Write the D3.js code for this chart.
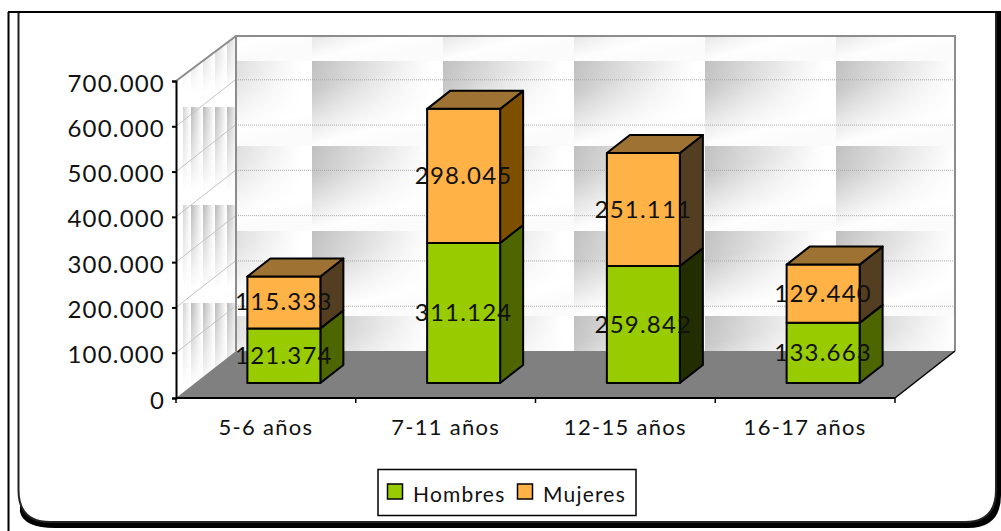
<!DOCTYPE html>
<html>
<head>
<meta charset="utf-8">
<script src="https://cdnjs.cloudflare.com/ajax/libs/d3/7.8.5/d3.min.js"></script>
<style>
html,body{margin:0;padding:0;background:#fff;overflow:hidden}
svg{display:block}
text{font-family:Lato,"Noto Sans",sans-serif;fill:#111}
</style>
</head>
<body>
<svg id="c" width="1001" height="531"></svg>
<script>
const categories = ["5-6 años","7-11 años","12-15 años","16-17 años"];
const hombres = [121374,311124,259842,133663];
const mujeres = [115333,298045,251111,129440];
const yTicks = [0,100000,200000,300000,400000,500000,600000,700000];
const seriesNames = ["Hombres","Mujeres"];
const seriesColors = ["#99CC00","#FFB347"];
const topColor = "#9D7233";
const hombresSide = ["#4D6600","#4D6600","#222E00","#4D6600"];
const mujeresSide = ["#543E22","#7F4F00","#543E22","#543E22"];

const locale = d3.formatLocale({decimal:",",thousands:".",grouping:[3],currency:["","€"]});
const fmt = locale.format(",d");

const svg = d3.select("#c");
const W = 1001, H = 531;
const x = d3.scaleBand().domain(categories).range([176,895]);
const y = d3.scaleLinear().domain([0,700000]).range([398,81]);
const yBar = d3.scaleLinear().domain([0,700000]).range([383,68]);
const depth = {dx:60, dy:-47};
const bar = {w:73, off:18, dx:23, dy:-18};
const pts = a => a.map(p=>p.join(",")).join(" ");

// frame
const defs = svg.append("defs");
svg.append("rect").attr("width",W).attr("height",H).attr("fill","#fff");
svg.append("path").attr("fill","#000")
  .attr("d","M20,12 H1001 V495 Q1001,528 968,528 H55 Q24,528 20,512 Z");
svg.append("path").attr("fill","#fff").attr("stroke","#222").attr("stroke-width",2)
  .attr("d","M18.5,12 V490 Q18.5,522 50,522 H965 Q996,522 996,490 V12 Z");
svg.append("line").attr("x1",8.5).attr("x2",8.5).attr("y1",12).attr("y2",H).attr("stroke","#000").attr("stroke-width",2);
svg.append("line").attr("x1",8).attr("x2",1001).attr("y1",12).attr("y2",12).attr("stroke","#000").attr("stroke-width",2);

// wall textures
const hg = defs.append("linearGradient").attr("id","hg");
hg.append("stop").attr("offset",0).attr("stop-color","#c0c0c0");
hg.append("stop").attr("offset",0.92).attr("stop-color","#fff");
const vg = defs.append("linearGradient").attr("id","vg").attr("x1",0).attr("y1",0).attr("x2",0.4).attr("y2",1);
vg.append("stop").attr("offset",0).attr("stop-color","#fff").attr("stop-opacity",0);
vg.append("stop").attr("offset",0.3).attr("stop-color","#fff").attr("stop-opacity",0.12);
vg.append("stop").attr("offset",0.85).attr("stop-color","#fff").attr("stop-opacity",0.97);
vg.append("stop").attr("offset",1).attr("stop-color","#fbfbfb").attr("stop-opacity",1);
const back = defs.append("pattern").attr("id","backTile").attr("patternUnits","userSpaceOnUse")
  .attr("x",181).attr("y",61).attr("width",131).attr("height",85);
back.append("rect").attr("width",131).attr("height",85).attr("fill","url(#hg)");
back.append("rect").attr("width",131).attr("height",85).attr("fill","url(#vg)");

const sg = defs.append("linearGradient").attr("id","sg");
sg.append("stop").attr("offset",0).attr("stop-color","#b8b8b8");
sg.append("stop").attr("offset",0.95).attr("stop-color","#fff");
const fade = defs.append("linearGradient").attr("id","fade").attr("x1",0).attr("y1",0).attr("x2",0).attr("y2",1);
fade.append("stop").attr("offset",0).attr("stop-color","#fff").attr("stop-opacity",0);
fade.append("stop").attr("offset",0.85).attr("stop-color","#fff").attr("stop-opacity",1);
fade.append("stop").attr("offset",1).attr("stop-color","#fff").attr("stop-opacity",1);
const stripe = defs.append("pattern").attr("id","stripe").attr("patternUnits","userSpaceOnUse")
  .attr("x",183).attr("y",107).attr("width",12).attr("height",98);
stripe.append("rect").attr("width",12).attr("height",98).attr("fill","url(#sg)");
const side = defs.append("pattern").attr("id","sideTile").attr("patternUnits","userSpaceOnUse")
  .attr("x",176).attr("y",107).attr("width",60).attr("height",98);
side.append("rect").attr("width",60).attr("height",98).attr("fill","#fff");
side.append("rect").attr("x",7).attr("width",53).attr("height",98).attr("fill","url(#stripe)");
side.append("rect").attr("width",60).attr("height",98).attr("fill","url(#fade)");

const y0 = y(0), yM = y(700000), xL = x.range()[0], xR = x.range()[1];
const yWallTop = yM+depth.dy+2;
// back wall
svg.append("polygon").attr("points",pts([[xL+depth.dx,yWallTop],[xR+depth.dx+1,yWallTop],[xR+depth.dx+1,y0+depth.dy],[xL+depth.dx,y0+depth.dy]]))
  .attr("fill","url(#backTile)");
// side wall
svg.append("polygon").attr("points",pts([[xL,yM],[xL+depth.dx,yWallTop],[xL+depth.dx,y0+depth.dy],[xL,y0]]))
  .attr("fill","url(#sideTile)");
// gridlines
const gridTicks = yTicks.filter(t=>t>0 && t<700000);
svg.append("g").selectAll("line").data(gridTicks).join("line")
  .attr("x1",xL+depth.dx).attr("x2",xR+depth.dx)
  .attr("y1",d=>y(d)+depth.dy+0.5).attr("y2",d=>y(d)+depth.dy+0.5)
  .attr("stroke","#a8a8a8").attr("stroke-width",1).attr("stroke-dasharray","1 1");
svg.append("g").selectAll("line").data(gridTicks).join("line")
  .attr("x1",xL).attr("x2",xL+depth.dx)
  .attr("y1",d=>y(d)).attr("y2",d=>y(d)+depth.dy)
  .attr("stroke","#c4c4c4").attr("stroke-width",1);
// wall borders
svg.append("polyline").attr("fill","none").attr("stroke","#8c8c8c").attr("stroke-width",2)
  .attr("points",pts([[xL,yM],[xL+depth.dx,yWallTop],[xR+depth.dx,yWallTop],[xR+depth.dx,y0+depth.dy]]));
svg.append("line").attr("x1",xL+depth.dx).attr("x2",xL+depth.dx).attr("y1",yWallTop).attr("y2",y0+depth.dy)
  .attr("stroke","#8c8c8c").attr("stroke-width",2);
// floor
svg.append("polygon").attr("points",pts([[xL,y0],[xR,y0],[xR+depth.dx,y0+depth.dy],[xL+depth.dx,y0+depth.dy]])).attr("fill","#808080");
svg.append("line").attr("x1",xR).attr("y1",y0).attr("x2",xR+depth.dx).attr("y2",y0+depth.dy).attr("stroke","#000").attr("stroke-width",1.5);

// axes
const yAxis = d3.axisLeft(y).tickValues(yTicks).tickFormat(fmt).tickSize(4).tickPadding(7);
const gy = svg.append("g").attr("transform",`translate(${xL},0)`).call(yAxis);
gy.selectAll(".tick line").attr("stroke","#000").attr("stroke-width",2);
gy.select(".domain").attr("stroke","#000").attr("stroke-width",2);
gy.selectAll("text").attr("font-size",24).attr("letter-spacing",1.2).attr("fill","#111")
  .attr("dy","0.42em").style("font-family","Lato");

const gx = svg.append("g").attr("transform",`translate(0,${y0})`);
gx.append("line").attr("x1",xL).attr("x2",xR).attr("stroke","#000").attr("stroke-width",2);
gx.selectAll("line.t").data([...categories.map(c=>x(c)),xR]).join("line").attr("class","t")
  .attr("x1",d=>d).attr("x2",d=>d).attr("y1",0).attr("y2",5).attr("stroke","#000").attr("stroke-width",1.5);
gx.selectAll("text").data(categories).join("text")
  .attr("x",c=>x(c)+x.bandwidth()/2).attr("y",37).attr("text-anchor","middle")
  .attr("font-size",22).attr("letter-spacing",1.3).text(c=>c);

// bars
const rows = categories.map((c,i)=>({c,i,segs:[
  {name:seriesNames[0],a:0,b:hombres[i],fill:seriesColors[0],side:hombresSide[i],v:hombres[i]},
  {name:seriesNames[1],a:hombres[i],b:hombres[i]+mujeres[i],fill:seriesColors[1],side:mujeresSide[i],v:mujeres[i]}
]}));
const fx = c => x(c)+(x.bandwidth()-bar.w)/2+bar.off;
const barsG = svg.append("g").attr("stroke","#000").attr("stroke-width",2).attr("stroke-linejoin","round");
rows.forEach(r=>{
  const l = fx(r.c), rr = l+bar.w;
  r.segs.forEach((s,j)=>{
    barsG.append("polygon").attr("fill",s.side)
      .attr("points",pts([[rr,yBar(s.a)],[rr+bar.dx,yBar(s.a)+bar.dy],[rr+bar.dx,yBar(s.b)+bar.dy],[rr,yBar(s.b)]]));
    barsG.append("rect").attr("x",l).attr("y",yBar(s.b)).attr("width",bar.w).attr("height",yBar(s.a)-yBar(s.b)).attr("fill",s.fill);
    if(j===1){
      barsG.append("polygon").attr("fill",topColor)
        .attr("points",pts([[l,yBar(s.b)],[l+bar.dx,yBar(s.b)+bar.dy],[rr+bar.dx,yBar(s.b)+bar.dy],[rr,yBar(s.b)]]));
    }
  });
});
// labels
const labels = svg.append("g");
rows.forEach(r=>{
  r.segs.forEach(s=>{
    labels.append("text").attr("x",fx(r.c)+bar.w/2).attr("y",(yBar(s.a)+yBar(s.b))/2+8)
      .attr("text-anchor","middle").attr("font-size",24).attr("letter-spacing",1.2).attr("fill","#111").text(fmt(s.v));
  });
});

// legend
const leg = svg.append("g");
leg.append("rect").attr("x",378).attr("y",469.5).attr("width",258).attr("height",46).attr("fill","#fff").attr("stroke","#000").attr("stroke-width",1.5);
const legX = d3.scaleOrdinal().domain(seriesNames).range([387,517]);
seriesNames.forEach((n,i)=>{
  leg.append("rect").attr("x",legX(n)+0.5).attr("y",484).attr("width",15).attr("height",15)
    .attr("fill",seriesColors[i]).attr("stroke","#000").attr("stroke-width",1.5);
  leg.append("text").attr("x",legX(n)+26).attr("y",502).attr("font-size",21).attr("letter-spacing",1.2).text(n);
});
</script>
</body>
</html>
